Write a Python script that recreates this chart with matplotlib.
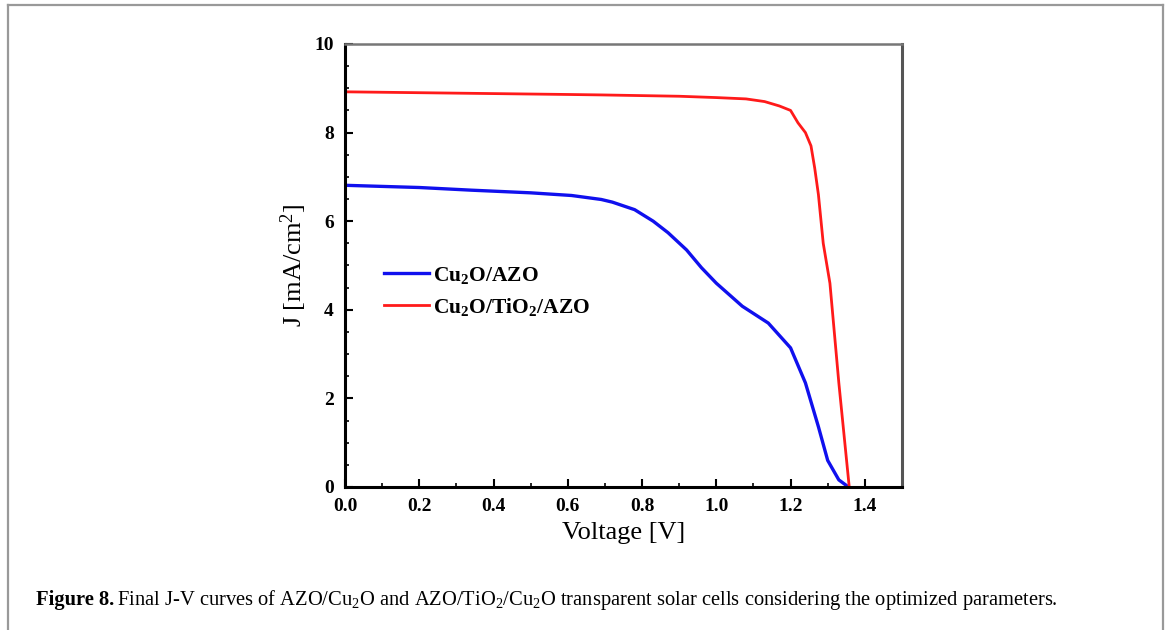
import matplotlib
matplotlib.use("Agg")
import matplotlib.pyplot as plt
from matplotlib.lines import Line2D
from matplotlib.ticker import MultipleLocator

plt.rcParams['font.family'] = ['Liberation Serif', 'DejaVu Serif']
plt.rcParams['mathtext.fontset'] = 'custom'
plt.rcParams['mathtext.rm'] = 'Liberation Serif'
plt.rcParams['mathtext.it'] = 'Liberation Serif:italic'
plt.rcParams['mathtext.bf'] = 'Liberation Serif:bold'

# J-V data
blue_v = [0.0, 0.2, 0.34, 0.5, 0.61, 0.69, 0.72, 0.78, 0.83, 0.87, 0.92, 0.96,
          1.0, 1.07, 1.14, 1.20, 1.24, 1.275, 1.30, 1.33, 1.356]
blue_j = [6.81, 6.76, 6.70, 6.64, 6.58, 6.49, 6.43, 6.26, 6.0, 5.74, 5.35, 4.95,
          4.6, 4.08, 3.70, 3.14, 2.35, 1.36, 0.6, 0.16, 0.0]

red_v = [0.0, 0.2, 0.4, 0.6, 0.69, 0.9, 1.0, 1.08, 1.13, 1.17, 1.20, 1.22, 1.24,
         1.255, 1.265, 1.275, 1.288, 1.306, 1.33, 1.358]
red_j = [8.92, 8.90, 8.88, 8.86, 8.85, 8.82, 8.79, 8.76, 8.70, 8.60, 8.50, 8.22, 8.0,
         7.7, 7.2, 6.6, 5.5, 4.6, 2.35, 0.0]

labels = [r'Cu$_{\mathbf{2}}$O/AZO', r'Cu$_{\mathbf{2}}$O/TiO$_{\mathbf{2}}$/AZO']
colors = ['#1010ee', '#ff1a1a']

fig = plt.figure(figsize=(11.7, 6.3), dpi=100)
ax = fig.add_axes([0.2949, 0.2270, 0.4760, 0.7032])

ax.plot(blue_v, blue_j, color=colors[0], lw=2.4, label=labels[0])
ax.plot(red_v, red_j, color=colors[1], lw=2.0, label=labels[1])

ax.set_xlim(0, 1.5)
ax.set_ylim(0, 10)
ax.xaxis.set_minor_locator(MultipleLocator(0.1))
ax.yaxis.set_major_locator(MultipleLocator(2))
ax.yaxis.set_minor_locator(MultipleLocator(0.5))
ax.set_xticks([0.0, 0.2, 0.4, 0.6, 0.8, 1.0, 1.2, 1.4])
ax.set_xticklabels(['0.0', '0.2', '0.4', '0.6', '0.8', '1.0', '1.2', '1.4'])
ax.tick_params(which='both', direction='in', top=False, right=False)
ax.tick_params(which='major', length=6, width=1.5, labelsize=14, pad=8)
ax.tick_params(which='minor', length=3, width=1.2)
for lab in ax.get_xticklabels() + ax.get_yticklabels():
    lab.set_fontweight('bold')

ax.spines['left'].set_linewidth(2.2)
ax.spines['bottom'].set_linewidth(2.2)
ax.spines['top'].set_color('#777777')
ax.spines['top'].set_linewidth(1.8)
ax.spines['right'].set_color('#555555')
ax.spines['right'].set_linewidth(2.2)

ax.set_xlabel('Voltage [V]', fontsize=19, labelpad=5)
ax.set_ylabel('J [mA/cm$^2$]', fontsize=19, labelpad=4)

ax.legend(loc='upper left', bbox_to_anchor=(0.035, 0.545), frameon=False,
          handlelength=2.1, handletextpad=0.2, labelspacing=0.45,
          prop={'weight': 'bold', 'size': 15.5})

# page frame around the figure
frame_kw = dict(color='#999999', lw=1.6, transform=fig.transFigure)
fig.add_artist(Line2D([7.5 / 1170, 7.5 / 1170], [0, 1 - 5 / 630], **frame_kw))
fig.add_artist(Line2D([7.5 / 1170, 1163 / 1170], [1 - 5 / 630, 1 - 5 / 630], **frame_kw))
fig.add_artist(Line2D([1163 / 1170, 1163 / 1170], [0, 1 - 5 / 630], **frame_kw))

# caption
fig.text(36 / 1170, 1 - 605 / 630, 'Figure 8.', fontsize=14.8, fontweight='bold',
         va='baseline', ha='left')
fig.text(117 / 1170, 1 - 605 / 630,
         r'Final J-V curves of AZO/Cu$_2$O and AZO/TiO$_2$/Cu$_2$O transparent solar cells '
         r'considering the optimized parameters.',
         fontsize=14.8, va='baseline', ha='left')

fig.savefig('out.png', dpi=100)
